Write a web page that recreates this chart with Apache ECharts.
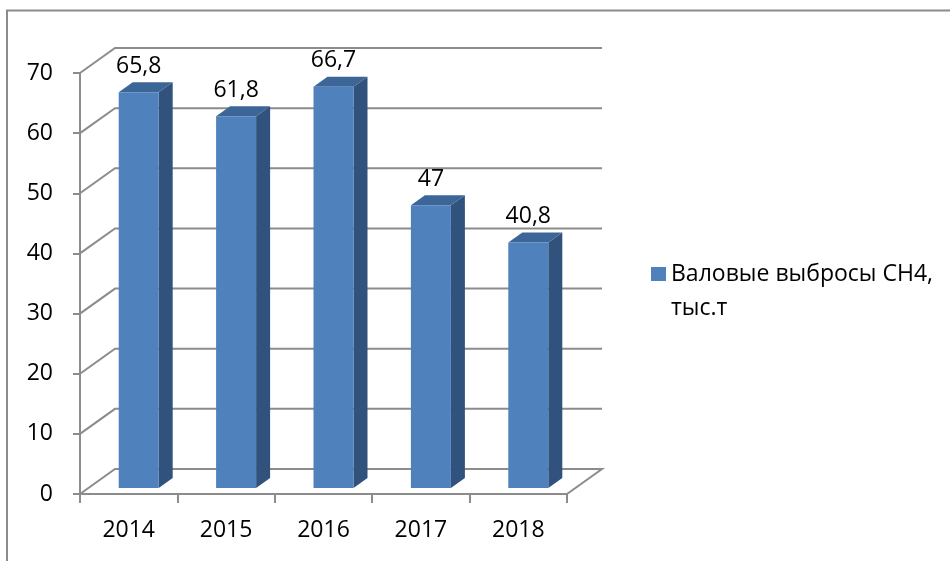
<!DOCTYPE html>
<html>
<head>
<meta charset="utf-8">
<script src="https://cdn.jsdelivr.net/npm/echarts@6/dist/echarts.min.js"></script>
<style>
  html, body { margin: 0; padding: 0; background: #fff; }
  #chart { width: 950px; height: 561px; }
</style>
</head>
<body>
<div id="chart"></div>
<script>
const categories = ['2014', '2015', '2016', '2017', '2018'];
const values = [65.8, 61.8, 66.7, 47, 40.8];
const yTicks = [0, 10, 20, 30, 40, 50, 60, 70];
const seriesName = 'Валовые выбросы СН4, тыс.т';

const FONT = '"Open Sans", "Noto Sans", sans-serif';
const FS = 23;
const GRAY = '#8c8c8c';
const WALL_DX = 35, WALL_DY = -25;   // depth of back wall
const BAR_DX = 10, BAR_DY = -6;      // bar front plane offset
const BAR_W = 40;                    // bar width
const DEPTH_DX = 14, DEPTH_DY = -10; // bar depth

const chart = echarts.init(document.getElementById('chart'), null, { renderer: 'canvas' });

function fmt(v) { return String(v).replace('.', ','); }

const option = {
  animation: false,
  backgroundColor: '#fff',
  textStyle: { fontFamily: FONT },
  grid: { left: 80, top: 73, width: 487, height: 421 },
  xAxis: {
    type: 'category',
    data: categories,
    boundaryGap: true,
    axisLine: { show: true, lineStyle: { color: GRAY, width: 2 } },
    axisTick: { show: true, alignWithLabel: false, length: 9, lineStyle: { color: GRAY, width: 2 } },
    axisLabel: { color: '#000', fontSize: FS, fontFamily: FONT, margin: 25 },
    splitLine: { show: false }
  },
  yAxis: {
    type: 'value',
    min: 0, max: 70, interval: 10,
    axisLine: { show: true, lineStyle: { color: GRAY, width: 2 } },
    axisTick: { show: true, length: 7, lineStyle: { color: GRAY, width: 2 } },
    axisLabel: { color: '#000', fontSize: FS, fontFamily: FONT, margin: 27 },
    splitLine: { show: false }
  },
  legend: {
    data: [seriesName],
    left: 651,
    top: 257,
    padding: 0,
    orient: 'vertical',
    icon: 'path://M0,0h15v14h-15z M0,48h0.01',
    itemWidth: 15,
    itemHeight: 48,
    itemGap: 0,
    selectedMode: false,
    formatter: function (name) { return name.replace(', ', ',\n'); },
    textStyle: { color: '#000', fontSize: FS, fontFamily: FONT, lineHeight: 34 }
  },
  graphic: [{
    type: 'rect',
    silent: true,
    shape: { x: 7, y: 10.5, width: 1000, height: 600 },
    style: { fill: 'none', stroke: GRAY, lineWidth: 2 }
  }],
  series: [
    {
      type: 'custom',
      name: 'wall',
      silent: true,
      z: 1,
      data: yTicks.map(v => [0, v]),
      encode: { x: 0, y: 1 },
      renderItem: function (params, api) {
        const v = api.value(1);
        const bw = api.size([1, 0])[0];
        const p = api.coord([0, v]);
        const xL = p[0] - bw / 2;
        const xR = api.coord([categories.length - 1, v])[0] + bw / 2;
        const y = p[1];
        const pts = [[xL, y], [xL + WALL_DX, y + WALL_DY], [xR + WALL_DX, y + WALL_DY]];
        if (v === yTicks[0]) pts.push([xR, y]);
        return {
          type: 'polyline',
          shape: { points: pts },
          style: { stroke: GRAY, lineWidth: 2, fill: 'none' }
        };
      }
    },
    {
      type: 'custom',
      name: seriesName,
      z: 3,
      itemStyle: { color: '#4F81BD' },
      data: values.map((v, i) => [i, v]),
      encode: { x: 0, y: 1 },
      renderItem: function (params, api) {
        const i = api.value(0);
        const v = api.value(1);
        const base = api.coord([i, 0]);
        const top = api.coord([i, v]);
        const cx = base[0] + BAR_DX;
        const xL = cx - BAR_W / 2;
        const xR = cx + BAR_W / 2;
        const yb = base[1] + BAR_DY;
        const yt = top[1] + BAR_DY;
        return {
          type: 'group',
          children: [
            {
              type: 'polygon',
              shape: { points: [[xR, yt], [xR + DEPTH_DX, yt + DEPTH_DY], [xR + DEPTH_DX, yb + DEPTH_DY], [xR, yb]] },
              style: { fill: '#31527D' }
            },
            {
              type: 'polygon',
              shape: { points: [[xL, yt], [xL + DEPTH_DX, yt + DEPTH_DY], [xR + DEPTH_DX, yt + DEPTH_DY], [xR, yt]] },
              style: { fill: '#3C6698' }
            },
            {
              type: 'rect',
              shape: { x: xL, y: yt, width: BAR_W, height: yb - yt },
              style: { fill: '#4F81BD' }
            },
            {
              type: 'text',
              style: {
                text: fmt(v),
                x: cx,
                y: yt + DEPTH_DY - 16,
                align: 'center',
                verticalAlign: 'middle',
                fill: '#000',
                font: FS + 'px ' + FONT
              }
            }
          ]
        };
      }
    }
  ]
};

chart.setOption(option);
</script>
</body>
</html>
